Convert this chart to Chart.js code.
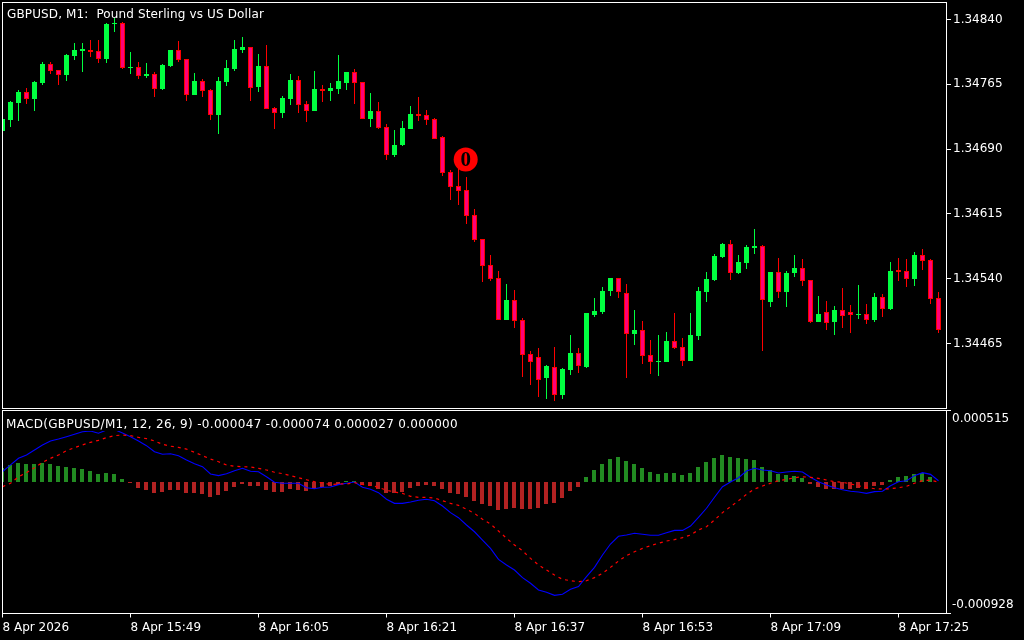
<!DOCTYPE html>
<html><head><meta charset="utf-8">
<style>html,body{margin:0;padding:0;background:#000;width:1024px;height:640px;overflow:hidden}
canvas{position:absolute;left:0}
#main{top:0}#sub{top:409px}</style>
<script src="https://cdn.jsdelivr.net/npm/chart.js@4/dist/chart.umd.min.js"></script>
</head><body>
<canvas id="main" width="1024" height="409"></canvas>
<canvas id="sub" width="1024" height="231"></canvas>
<script>
const mainTitle = 'GBPUSD, M1:  Pound Sterling vs US Dollar';
const subTitle = 'MACD(GBPUSD/M1, 12, 26, 9) -0.000047 -0.000074 0.000027 0.000000';
const priceTicks = [1.34840,1.34765,1.34690,1.34615,1.34540,1.34465];
const timeTickBars = [0,16,32,48,64,80,96,112];
const timeTickLabels = ['8 Apr 2026','8 Apr 15:49','8 Apr 16:05','8 Apr 16:21','8 Apr 16:37','8 Apr 16:53','8 Apr 17:09','8 Apr 17:25'];
const macdAxisMax = 0.000515, macdAxisMin = -0.000928;
const markerBar = 57.9, markerPrice = 1.34678, markerText = '0';

const open = [1.34711,1.34724,1.34743,1.34756,1.34748,1.34767,1.34788,1.34782,1.34776,1.34798,1.34804,1.34805,1.34804,1.34794,1.34835,1.34836,1.34784,1.34785,1.34775,1.34777,
1.34760,1.34786,1.34805,1.34794,1.34753,1.34769,1.34758,1.34729,1.34768,1.34783,1.34805,1.34808,1.34762,1.34786,1.34738,1.34732,1.34748,1.34770,1.34742,1.34734,
1.34760,1.34757,1.34760,1.34767,1.34779,1.34768,1.34725,1.34734,1.34716,1.34683,1.34695,1.34713,1.34731,1.34729,1.34725,1.34704,1.34663,1.34647,1.34643,1.34614,
1.34586,1.34556,1.34541,1.34492,1.34515,1.34492,1.34453,1.34449,1.34425,1.34438,1.34405,1.34434,1.34454,1.34438,1.34498,1.34501,1.34526,1.34541,1.34523,1.34476,
1.34481,1.34452,1.34444,1.34444,1.34468,1.34461,1.34445,1.34474,1.34525,1.34539,1.34565,1.34580,1.34547,1.34558,1.34576,1.34578,1.34513,1.34548,1.34525,1.34547,
1.34552,1.34539,1.34490,1.34501,1.34490,1.34504,1.34501,1.34498,1.34499,1.34492,1.34519,1.34505,1.34550,1.34549,1.34540,1.34567,1.34562,1.34518];
const high = [1.34725,1.34746,1.34758,1.34761,1.34769,1.34791,1.34791,1.34782,1.34800,1.34813,1.34813,1.34816,1.34816,1.34836,1.34842,1.34837,1.34802,1.34791,1.34790,1.34779,
1.34788,1.34805,1.34815,1.34794,1.34778,1.34771,1.34760,1.34773,1.34793,1.34816,1.34820,1.34808,1.34800,1.34810,1.34739,1.34751,1.34777,1.34775,1.34746,1.34780,
1.34764,1.34767,1.34799,1.34779,1.34783,1.34768,1.34755,1.34745,1.34719,1.34712,1.34723,1.34740,1.34750,1.34735,1.34726,1.34705,1.34666,1.34668,1.34658,1.34621,
1.34586,1.34567,1.34549,1.34534,1.34527,1.34495,1.34456,1.34460,1.34440,1.34461,1.34437,1.34475,1.34460,1.34500,1.34518,1.34530,1.34541,1.34541,1.34534,1.34504,
1.34491,1.34469,1.34475,1.34478,1.34500,1.34471,1.34500,1.34530,1.34548,1.34569,1.34581,1.34585,1.34567,1.34579,1.34598,1.34579,1.34548,1.34564,1.34549,1.34567,
1.34563,1.34539,1.34520,1.34514,1.34508,1.34529,1.34510,1.34533,1.34511,1.34523,1.34522,1.34559,1.34564,1.34563,1.34571,1.34574,1.34563,1.34525];
const low = [1.34711,1.34716,1.34723,1.34742,1.34734,1.34764,1.34777,1.34764,1.34769,1.34793,1.34779,1.34797,1.34790,1.34790,1.34826,1.34783,1.34777,1.34771,1.34772,1.34750,
1.34758,1.34785,1.34791,1.34746,1.34753,1.34750,1.34724,1.34707,1.34763,1.34780,1.34801,1.34746,1.34756,1.34736,1.34713,1.34726,1.34741,1.34732,1.34721,1.34734,
1.34745,1.34746,1.34754,1.34758,1.34742,1.34725,1.34716,1.34713,1.34677,1.34681,1.34694,1.34713,1.34723,1.34718,1.34702,1.34659,1.34631,1.34625,1.34603,1.34582,
1.34536,1.34537,1.34492,1.34492,1.34483,1.34426,1.34417,1.34403,1.34401,1.34398,1.34401,1.34429,1.34431,1.34437,1.34496,1.34499,1.34520,1.34518,1.34425,1.34463,
1.34441,1.34430,1.34427,1.34444,1.34459,1.34439,1.34445,1.34469,1.34513,1.34537,1.34564,1.34539,1.34545,1.34551,1.34569,1.34456,1.34507,1.34518,1.34507,1.34542,
1.34532,1.34489,1.34490,1.34481,1.34475,1.34483,1.34477,1.34493,1.34488,1.34490,1.34496,1.34504,1.34537,1.34530,1.34532,1.34550,1.34511,1.34477];
const close = [1.34725,1.34745,1.34756,1.34748,1.34768,1.34788,1.34780,1.34776,1.34799,1.34805,1.34806,1.34802,1.34794,1.34835,1.34836,1.34784,1.34785,1.34775,1.34777,1.34760,
1.34787,1.34805,1.34793,1.34753,1.34769,1.34757,1.34729,1.34769,1.34784,1.34806,1.34808,1.34761,1.34786,1.34736,1.34732,1.34749,1.34770,1.34741,1.34734,1.34760,
1.34757,1.34761,1.34769,1.34779,1.34767,1.34725,1.34734,1.34714,1.34683,1.34695,1.34714,1.34731,1.34728,1.34724,1.34702,1.34662,1.34646,1.34641,1.34613,1.34585,
1.34555,1.34540,1.34492,1.34515,1.34491,1.34452,1.34444,1.34423,1.34439,1.34405,1.34435,1.34454,1.34439,1.34500,1.34503,1.34526,1.34541,1.34525,1.34476,1.34481,
1.34451,1.34444,1.34445,1.34468,1.34460,1.34445,1.34475,1.34526,1.34540,1.34566,1.34580,1.34547,1.34559,1.34577,1.34578,1.34515,1.34548,1.34525,1.34547,1.34552,
1.34537,1.34490,1.34499,1.34489,1.34504,1.34497,1.34498,1.34499,1.34492,1.34519,1.34505,1.34549,1.34548,1.34540,1.34567,1.34560,1.34517,1.34481];

const macdLine = [80,128,175,199,234,270,298,312,329,346,364,369,353,376,380,355,329,298,265,222,
204,208,194,163,137,116,64,52,66,87,104,83,80,44,5,-2,-2,-2,-34,-41,
-31,-29,-12,-2,7,-31,-45,-69,-116,-145,-145,-135,-123,-116,-126,-164,-211,-247,-299,-347,
-406,-465,-543,-583,-619,-673,-713,-761,-777,-799,-791,-756,-737,-666,-600,-512,-434,-379,-370,-358,
-365,-372,-372,-354,-337,-337,-306,-244,-180,-102,-27,7,37,85,104,92,87,71,78,83,
78,40,9,-15,-34,-48,-59,-64,-74,-62,-59,-20,9,16,52,73,61,16].map(v => v / 1e6);
const signalLine = [-27,-2,44,73,108,147,175,199,229,251,270,289,303,322,336,341,336,324,315,298,
275,261,253,241,218,194,170,151,128,118,116,113,104,92,76,66,52,37,23,9,
0,-11,-7,-7,2,-10,-17,-31,-52,-64,-74,-95,-102,-102,-107,-126,-145,-159,-187,-216,
-258,-292,-342,-393,-441,-482,-536,-583,-619,-654,-685,-695,-702,-695,-673,-642,-600,-555,-517,-489,
-465,-446,-429,-413,-403,-389,-370,-334,-311,-263,-211,-169,-126,-81,-43,-22,-2,16,26,37,
44,40,33,21,9,5,-7,-20,-31,-41,-43,-41,-34,-24,-2,16,21,5].map(v => v / 1e6);
const histogram = [103,124,138,131,131,138,131,117,110,103,96,81,60,67,60,25,-4,-39,-54,-75,
-68,-54,-54,-75,-75,-82,-103,-89,-61,-32,-11,-25,-25,-54,-68,-68,-47,-54,-61,-47,
-32,-25,-18,10,10,-18,-25,-47,-75,-75,-68,-39,-25,-18,-25,-47,-75,-82,-103,-132,
-153,-167,-196,-189,-182,-189,-189,-182,-153,-146,-110,-61,-32,39,89,131,167,181,152,131,
103,74,60,67,67,53,67,110,145,174,195,181,174,167,160,110,89,60,53,46,
32,-11,-32,-47,-47,-47,-47,-39,-47,-25,-18,17,39,46,60,67,39,0].map(v => v / 1e6);

const WHITE = '#ffffff', BG = '#000000';
const FONT = 'DejaVu Sans';
Chart.defaults.font.family = FONT;
Chart.defaults.font.size = 12;
Chart.defaults.color = WHITE;

const bars = open.map((_, i) => i);
const xMin = 0.0625, xMax = 117.9375;
const isUp = i => close[i] >= open[i];

function fitText(ctx, text, x, y, width) {
  ctx.letterSpacing = '0px';
  const w = ctx.measureText(text).width;
  ctx.letterSpacing = ((width - w) / text.length).toFixed(3) + 'px';
  ctx.fillText(text, x, y);
  ctx.letterSpacing = '0px';
}
const snap = (fn, shift) => ({
  id: 'snap',
  afterDatasetsUpdate(chart) {
    chart.getSortedVisibleDatasetMetas().forEach(meta => {
      if (meta.type !== 'bar') return;
      meta.data.forEach(el => {
        el.y = fn(el.y); el.base = fn(el.base);
        if (shift) el.x -= shift;
      });
    });
  }
});
const frame = (x, y, w, h) => ({
  id: 'frame',
  beforeDatasetsDraw(chart) {
    const c = chart.ctx;
    c.save(); c.strokeStyle = WHITE; c.lineWidth = 1; c.strokeRect(x, y, w, h); c.restore();
  }
});
const noPad = s => { s.paddingTop = 0; s.paddingBottom = 0; s.paddingLeft = 0; s.paddingRight = 0; };

const hiddenX = {
  type: 'linear', min: xMin, max: xMax, offset: false, display: false, grid: {display: false, offset: false}
};

new Chart(document.getElementById('main'), {
  type: 'bar',
  data: { datasets: [
    { type: 'line', order: 0, showLine: false, data: [{x: markerBar, y: markerPrice}],
      pointRadius: 12, pointBackgroundColor: '#ff0000', pointBorderWidth: 0, clip: false },
    { order: 1, grouped: false, barThickness: 5, borderWidth: 1, borderSkipped: false, inflateAmount: 0,
      data: bars.map(i => ({x: i, y: [open[i], close[i]]})),
      backgroundColor: bars.map(i => isUp(i) ? '#00ff40' : '#ff0078'),
      borderColor: bars.map(i => isUp(i) ? '#00ff40' : '#ff0000') },
    { order: 2, grouped: false, barThickness: 1, borderWidth: 0, inflateAmount: 0,
      data: bars.map(i => ({x: i, y: [low[i], high[i]]})),
      backgroundColor: bars.map(i => isUp(i) ? '#00ff40' : '#ff0000') }
  ]},
  options: {
    responsive: false, animation: false, devicePixelRatio: 1,
    layout: { autoPadding: false, padding: {left: 3, top: 3, right: 0, bottom: 1} },
    plugins: { legend: {display: false}, tooltip: {enabled: false} },
    scales: {
      x: hiddenX,
      y: { position: 'right', min: 1.3439035, max: 1.348591,
        border: {display: false},
        grid: {drawOnChartArea: false, drawTicks: true, tickLength: 5, tickColor: WHITE, tickWidth: 1},
        ticks: {padding: 2, color: WHITE, autoSkip: false, callback: v => v.toFixed(5)},
        afterBuildTicks: s => { s.ticks = priceTicks.map(value => ({value})); },
        afterFit: s => { s.width = 78; noPad(s); } }
    }
  },
  plugins: [snap(Math.round), frame(2.5, 2.5, 944, 406), {
    id: 'texts',
    afterDatasetsDraw(chart) {
      const c = chart.ctx; c.save();
      c.textBaseline = 'alphabetic'; c.textAlign = 'left';
      c.fillStyle = WHITE; c.font = '12px "' + FONT + '"';
      fitText(c, mainTitle, 7, 18, 257);
      const pt = chart.getDatasetMeta(0).data[0];
      c.fillStyle = BG; c.font = 'bold 21px "Liberation Serif"'; c.textAlign = 'center';
      c.fillText(markerText, pt.x, pt.y + 7);
      c.restore();
    }
  }]
});

const labelShift = 7.108e-6;
const macdTicks = [
  {value: macdAxisMax, text: '', mark: true},
  {value: macdAxisMax - 8.5 * labelShift, text: macdAxisMax.toFixed(6), mark: false},
  {value: macdAxisMin + 8.5 * labelShift, text: macdAxisMin.toFixed(6), mark: false},
  {value: macdAxisMin, text: '', mark: true}
];

new Chart(document.getElementById('sub'), {
  type: 'bar',
  data: { datasets: [
    { type: 'line', order: 0, data: bars.map(i => ({x: i, y: signalLine[i]})),
      borderColor: '#ff0000', borderWidth: 1.2, borderDash: [3, 4], pointRadius: 0, tension: 0 },
    { type: 'line', order: 1, data: bars.map(i => ({x: i, y: macdLine[i]})),
      borderColor: '#0000ff', borderWidth: 1.1, pointRadius: 0, tension: 0 },
    { order: 2, grouped: false, barThickness: 4, borderWidth: 0, inflateAmount: 0,
      data: bars.map(i => ({x: i, y: histogram[i]})),
      backgroundColor: bars.map(i => histogram[i] >= 0 ? '#228b22' : '#b22222') }
  ]},
  options: {
    responsive: false, animation: false, devicePixelRatio: 1,
    layout: { autoPadding: false, padding: {left: 3, top: 1.5, right: 0, bottom: 0} },
    plugins: { legend: {display: false}, tooltip: {enabled: false} },
    scales: {
      x: { type: 'linear', min: xMin, max: xMax, offset: false,
        border: {display: false},
        grid: {drawOnChartArea: false, offset: false, drawTicks: true, tickLength: 4, tickColor: WHITE},
        ticks: {align: 'start', padding: 3, autoSkip: false, maxRotation: 0, minRotation: 0, color: WHITE,
          callback: v => timeTickLabels[timeTickBars.indexOf(v)]},
        afterBuildTicks: s => { s.ticks = timeTickBars.map(value => ({value})); },
        afterFit: s => { s.height = 26.5; noPad(s); } },
      y: { position: 'right', min: macdAxisMin, max: macdAxisMax,
        border: {display: false},
        grid: {drawOnChartArea: false, drawTicks: true, tickLength: 5,
          tickColor: ctx => (macdTicks[ctx.index] && macdTicks[ctx.index].mark) ? WHITE : 'rgba(0,0,0,0)'},
        ticks: {padding: 1, color: WHITE, autoSkip: false, callback: (v, i) => macdTicks[i].text},
        afterBuildTicks: s => { s.ticks = macdTicks.map(t => ({value: t.value})); },
        afterFit: s => { s.width = 78; noPad(s); } }
    }
  },
  plugins: [snap(Math.floor, 0.5), frame(2.5, 1.5, 944, 203), {
    id: 'label',
    afterDatasetsDraw(chart) {
      const c = chart.ctx; c.save();
      c.fillStyle = BG; c.fillRect(3, 6, 458, 16);
      c.textBaseline = 'alphabetic'; c.textAlign = 'left';
      c.fillStyle = WHITE; c.font = '12px "' + FONT + '"';
      fitText(c, subTitle, 6, 19, 452);
      c.restore();
    }
  }]
});
</script>
</body></html>
